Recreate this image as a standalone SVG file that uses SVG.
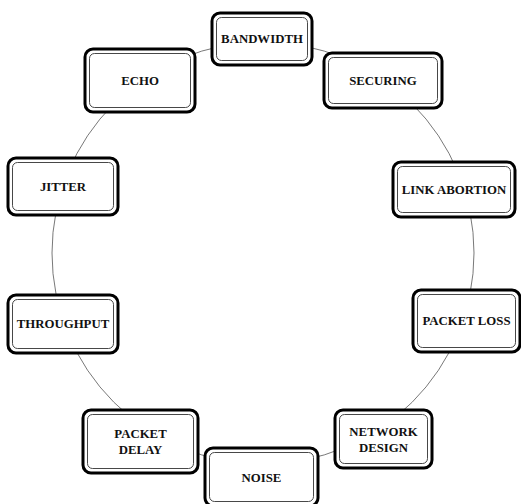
<svg xmlns="http://www.w3.org/2000/svg" width="521" height="504" viewBox="0 0 521 504">
<style>
.o{fill:#fff;stroke:#000;stroke-width:3}
.i{fill:none;stroke:#333;stroke-width:0.9}
.t{font-family:"Liberation Serif",serif;font-weight:bold;font-size:12.8px;fill:#111;text-anchor:middle}
.c{fill:none;stroke:#555;stroke-width:0.8}
</style>
<rect width="521" height="504" fill="#fff"/>
<g id="connectors">
<circle class="c" cx="263" cy="253" r="211"/>
</g>
<g id="bandwidth"><rect class="o" x="212" y="13" width="100" height="52" rx="8"/><rect class="i" x="216.5" y="17.5" width="91" height="43" rx="5"/><text class="t" x="262" y="43">BANDWIDTH</text></g>
<g id="echo"><rect class="o" x="85" y="49" width="110" height="63" rx="8"/><rect class="i" x="89.5" y="53.5" width="101" height="54" rx="5"/><text class="t" x="140" y="85">ECHO</text></g>
<g id="securing"><rect class="o" x="324" y="53" width="118" height="55" rx="8"/><rect class="i" x="328.5" y="57.5" width="109" height="46" rx="5"/><text class="t" x="383" y="85">SECURING</text></g>
<g id="jitter"><rect class="o" x="8" y="158" width="110" height="57" rx="8"/><rect class="i" x="12.5" y="162.5" width="101" height="48" rx="5"/><text class="t" x="63" y="191">JITTER</text></g>
<g id="link-abortion"><rect class="o" x="393" y="162" width="122" height="55" rx="8"/><rect class="i" x="397.5" y="166.5" width="113" height="46" rx="5"/><text class="t" x="454" y="194">LINK ABORTION</text></g>
<g id="throughput"><rect class="o" x="8" y="295" width="110" height="58" rx="8"/><rect class="i" x="12.5" y="299.5" width="101" height="49" rx="5"/><text class="t" x="63" y="328">THROUGHPUT</text></g>
<g id="packet-loss"><rect class="o" x="413" y="290" width="107" height="62" rx="8"/><rect class="i" x="417.5" y="294.5" width="98" height="53" rx="5"/><text class="t" x="466.5" y="325">PACKET LOSS</text></g>
<g id="packet-delay"><rect class="o" x="83" y="410" width="115" height="63" rx="8"/><rect class="i" x="87.5" y="414.5" width="106" height="54" rx="5"/><text class="t" x="140.5" y="438">PACKET</text><text class="t" x="140.5" y="454">DELAY</text></g>
<g id="network-design"><rect class="o" x="335" y="410" width="97" height="58" rx="8"/><rect class="i" x="339.5" y="414.5" width="88" height="49" rx="5"/><text class="t" x="383.5" y="436">NETWORK</text><text class="t" x="383.5" y="452">DESIGN</text></g>
<g id="noise"><rect class="o" x="205" y="448" width="113" height="58" rx="8"/><rect class="i" x="209.5" y="452.5" width="104" height="49" rx="5"/><text class="t" x="261.5" y="482">NOISE</text></g>
</svg>
